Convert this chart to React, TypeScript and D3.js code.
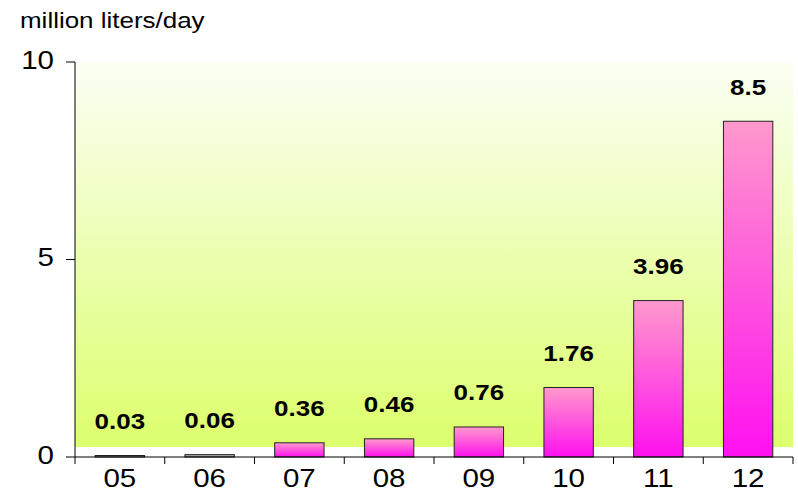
import React from "react";
import * as d3 from "d3";

const categories = ["05", "06", "07", "08", "09", "10", "11", "12"];
const values = [0.03, 0.06, 0.36, 0.46, 0.76, 1.76, 3.96, 8.5];
const labels = ["0.03", "0.06", "0.36", "0.46", "0.76", "1.76", "3.96", "8.5"];
const yTicks = [0, 5, 10];

const W = 798, H = 493;
const left = 75, right = 793, top = 62, bottom = 457;
const SX = 1.18;

function T({ x, y, size, anchor = "start", bold = false, children }: any) {
  return (
    <text transform={`translate(${x},${y}) scale(${SX},1)`} fontSize={size}
      fontWeight={bold ? "bold" : "normal"} textAnchor={anchor}>{children}</text>
  );
}

export default function App() {
  const x = d3.scaleBand<string>().domain(categories).range([left, right]).paddingInner(0.45).paddingOuter(0.225);
  const xb = d3.scaleBand<string>().domain(categories).range([left, right]);
  const y = d3.scaleLinear().domain([0, 10]).range([bottom, top]);
  const font = "'Liberation Sans', Arial, sans-serif";
  return (
    <svg width={W} height={H} style={{ position: "absolute", left: 0, top: 0 }} fontFamily={font}>
      <defs>
        <linearGradient id="bg" x1="0" y1="0" x2="0" y2="1">
          <stop offset="0" stopColor="#fbfff5" />
          <stop offset="1" stopColor="#dcff6c" />
        </linearGradient>
        <linearGradient id="bar" x1="0" y1="0" x2="0" y2="1">
          <stop offset="0" stopColor="#ff99cc" />
          <stop offset="1" stopColor="#ff10f0" />
        </linearGradient>
      </defs>
      <rect x={0} y={0} width={W} height={H} fill="#fff" />
      <rect x={left} y={top} width={right - left} height={bottom - 10 - top} fill="url(#bg)" />
      <T x={20} y={28} size={22}>million liters/day</T>
      {categories.map((c, i) => {
        const v = values[i];
        const yy = y(v);
        const h = Math.max(bottom - yy, 1.5);
        return (
          <g key={c}>
            <rect x={x(c)} y={bottom - h} width={x.bandwidth()} height={h}
              fill={v < 0.1 ? "#b0b0b0" : "url(#bar)"} stroke="#222" strokeWidth={1} />
            <T x={(x(c) as number) + x.bandwidth() / 2} y={yy - 26.5} size={22} bold anchor="middle">{labels[i]}</T>
            <T x={(xb(c) as number) + xb.bandwidth() / 2} y={487} size={25} anchor="middle">{c}</T>
          </g>
        );
      })}
      <line x1={left} x2={left} y1={top} y2={bottom} stroke="#000" />
      <line x1={left} x2={right} y1={bottom} y2={bottom} stroke="#000" />
      {yTicks.map((t) => (
        <g key={t}>
          <line x1={left - 9} x2={left} y1={y(t)} y2={y(t)} stroke="#000" />
          <T x={54} y={y(t) + 6.5} size={25} anchor="end">{t}</T>
        </g>
      ))}
      {d3.range(categories.length + 1).map((i) => {
        const xx = left + i * xb.step();
        return <line key={i} x1={xx} x2={xx} y1={bottom} y2={bottom + 7} stroke="#000" />;
      })}
    </svg>
  );
}
